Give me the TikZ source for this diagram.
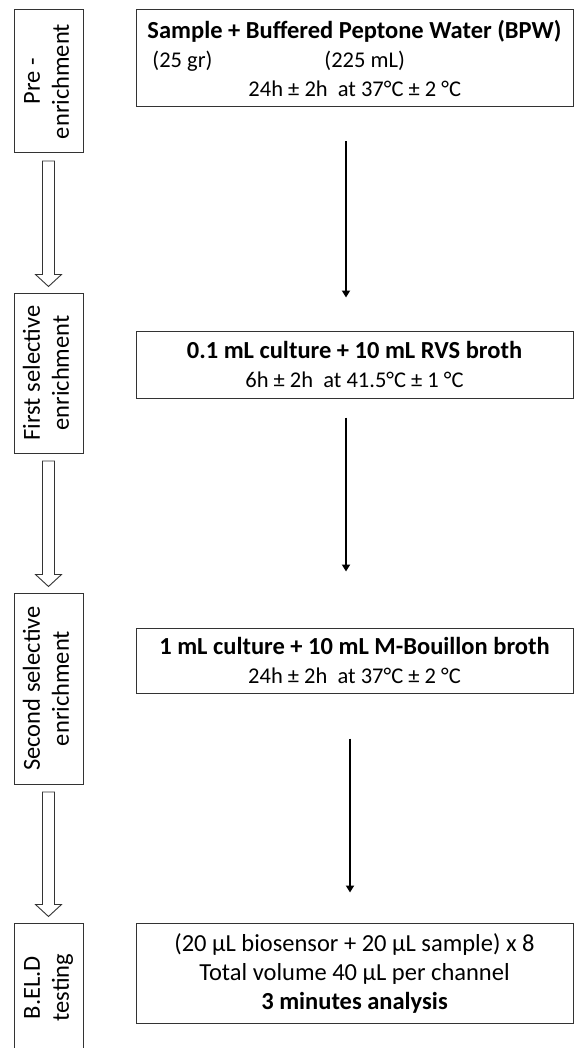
\documentclass[tikz,border=0pt]{standalone}
\usepackage{fontspec}
\setmainfont{Carlito}
\usetikzlibrary{arrows.meta,calc}
\newcommand{\sidetext}[1]{\rotatebox{90}{\begin{tabular}{@{}c@{}}#1\end{tabular}}}
\newcommand{\detail}{\fontsize{22.5}{27}\selectfont}

\begin{document}
\begin{tikzpicture}[
    x=1pt, y=-1pt,
    stage/.style={rectangle, draw=black!80, line width=1pt, minimum width=69pt, inner sep=0pt, font=\fontsize{24.5}{29}\selectfont},
    stepbox/.style={rectangle, draw=black!80, line width=1pt, minimum width=437pt, inner sep=0pt, align=center, font=\fontsize{24.5}{29}\selectfont},
    flow/.style={-{Triangle[length=7pt, width=8pt]}, line width=1.8pt},
    hollow/.style={draw=black!80, fill=white, line width=0.9pt, to path={let \p1=(\tikztostart), \p2=(\tikztotarget) in
        (\x1-6pt,\y1) -- (\x1-6pt,\y2+12pt) -- (\x1-13pt,\y2+12pt) -- (\x1,\y2) -- (\x1+13pt,\y2+12pt) -- (\x1+6pt,\y2+12pt) -- (\x1+6pt,\y1) -- cycle}}
]
\useasboundingbox (0,0) rectangle (574,1048);

\node[stage, minimum height=143pt] (pre) at (48.5,81.5) {\sidetext{Pre -\\enrichment}};
\node[stage, minimum height=160pt] (first) at (48.5,373) {\sidetext{First selective\\enrichment}};
\node[stage, minimum height=191pt] (second) at (48.5,688.5) {\sidetext{Second selective\\enrichment}};
\node[stage, minimum height=129pt] (beld) at (48.5,987.5) {\sidetext{B.EL.D\\testing}};

\node[stepbox, minimum height=97pt, align=left] (bpw) at (354.5,58.5) {\textbf{Sample + Buffered Peptone Water (BPW)}\\
    {\detail\hspace*{5pt}\makebox[172pt][l]{(25 gr)}(225 mL)}\\
    {\detail\hspace*{101pt}24h ± 2h\ \ at 37°C ± 2 °C}};
\node[stepbox, minimum height=67pt] (rvs) at (354.5,364.5) {\textbf{0.1 mL culture + 10 mL RVS broth}\\ {\detail 6h ± 2h\ \ at 41.5°C ± 1 °C}};
\node[stepbox, minimum height=65pt] (mkb) at (354.5,660.5) {\textbf{1 mL culture + 10 mL M-Bouillon broth}\\ {\detail 24h ± 2h\ \ at 37°C ± 2 °C}};
\node[stepbox, minimum height=100pt] (test) at (354.5,973) {(20 µL biosensor + 20 µL sample) x 8\\ Total volume 40 µL per channel\\ \textbf{3 minutes analysis}};

\draw[hollow] ([yshift=-7.5pt]pre.south) to ([yshift=6pt]first.north);
\draw[hollow] ([yshift=-7.5pt]first.south) to ([yshift=6pt]second.north);
\draw[hollow] ([yshift=-7.5pt]second.south) to ([yshift=6pt]beld.north);

\draw[flow, shorten <=34pt, shorten >=33pt] ([xshift=-8.5pt]bpw.south) -- ([xshift=-8.5pt]rvs.north);
\draw[flow, shorten <=19pt, shorten >=56pt] ([xshift=-8.5pt]rvs.south) -- ([xshift=-8.5pt]mkb.north);
\draw[flow, shorten <=45pt, shorten >=30pt] ([xshift=-4.5pt]mkb.south) -- ([xshift=-4.5pt]test.north);
\end{tikzpicture}
\end{document}
